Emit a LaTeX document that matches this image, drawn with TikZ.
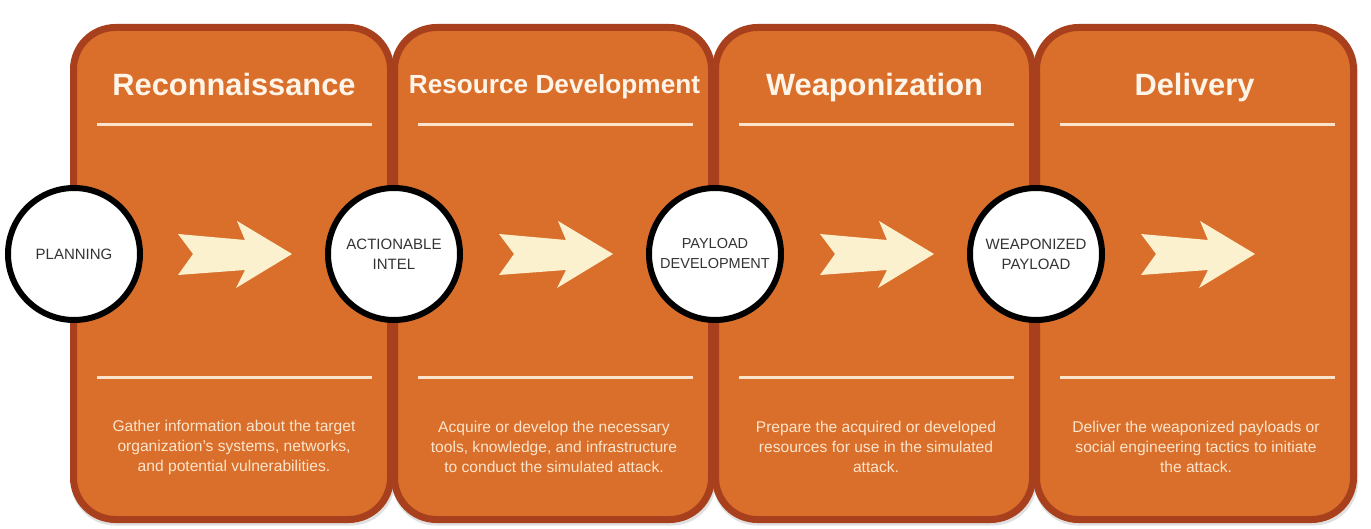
\documentclass[tikz,border=0pt]{standalone}
\usepackage{fontspec}
\setmainfont{Liberation Sans}
\definecolor{panelfill}{HTML}{D96F2B}
\definecolor{panelborder}{HTML}{A9401D}
\definecolor{cream}{HTML}{FBE4CB}
\definecolor{titlecol}{HTML}{FFF4E8}
\definecolor{arrowcol}{HTML}{FBF1CF}
\definecolor{circtext}{HTML}{333333}
\tikzset{
  panel/.style={draw=panelborder, fill=panelfill, line width=7pt, rounded corners=42pt,
    minimum width=317pt, minimum height=492pt, inner sep=0pt},
  panelshadow/.style={fill=black, fill opacity=0.12, draw=none, rounded corners=44pt,
    minimum width=324pt, minimum height=499pt, inner sep=0pt},
  stagecircle/.style={circle, draw=black, fill=white, line width=6pt, minimum size=132pt,
    inner sep=0pt, align=center, text=circtext, font=\fontsize{15}{20}\selectfont},
  titletext/.style={text=titlecol, anchor=base, font=\bfseries\fontsize{30.8}{36}\selectfont},
  desctext/.style={text=cream, align=center, font=\fontsize{15.6}{20}\selectfont},
  sepline/.style={draw=cream, line width=3pt},
  arrowshape/.style={fill=arrowcol}
}
\begin{document}
\begin{tikzpicture}[x=1pt,y=-1pt]
\useasboundingbox (0,0) rectangle (1371,529);
% soft shadows
\node[panelshadow] (s1) at (233,276) {};
\node[panelshadow] (s2) at (554,276) {};
\node[panelshadow] (s3) at (875,276) {};
\node[panelshadow] (s4) at (1196,276) {};
% panels
\node[panel] (p1) at (232,273.5) {};
\node[panel] (p2) at (553,273.5) {};
\node[panel] (p3) at (874,273.5) {};
\node[panel] (p4) at (1195,273.5) {};
% titles
\node[titletext] (t1) at (234,96) {Reconnaissance};
\node[titletext, font=\bfseries\fontsize{26.2}{32}\selectfont] (t2) at (554.5,94) {Resource Development};
\node[titletext] (t3) at (874.5,96) {Weaponization};
\node[titletext] (t4) at (1194.5,96) {Delivery};
% separator lines
\foreach \i in {0,1,2,3}{
  \pgfmathsetmacro{\xa}{97+321*\i}
  \pgfmathsetmacro{\xb}{372+321*\i}
  \draw[sepline] (\xa,125) -- (\xb,125);
  \draw[sepline] (\xa,377) -- (\xb,377);
}
% descriptions
\node[desctext] (d1) at (234,447) {Gather information about the target\\organization's systems, networks,\\and potential vulnerabilities.};
\node[desctext] (d2) at (554,447) {Acquire or develop the necessary\\tools, knowledge, and infrastructure\\to conduct the simulated attack.};
\node[desctext] (d3) at (876,447) {Prepare the acquired or developed\\resources for use in the simulated\\attack.};
\node[desctext] (d4) at (1196,447) {Deliver the weaponized payloads or\\social engineering tactics to initiate\\the attack.};
% circles
\node[stagecircle] (c1) at (74,254) {PLANNING};
\node[stagecircle] (c2) at (394,254) {ACTIONABLE\\INTEL};
\node[stagecircle, font=\fontsize{14.5}{20}\selectfont] (c3) at (715,254) {PAYLOAD\\DEVELOPMENT};
\node[stagecircle] (c4) at (1036,254) {WEAPONIZED\\PAYLOAD};
% arrows
\foreach \s in {178,499,820,1141}{
  \fill[arrowshape, shift={(\s,254)}] (0,-20) -- (67,-14) -- (59,-33) -- (114,0) -- (58,34) -- (67,16) -- (0,21) -- (15,0) -- cycle;
}
\end{tikzpicture}
\end{document}
